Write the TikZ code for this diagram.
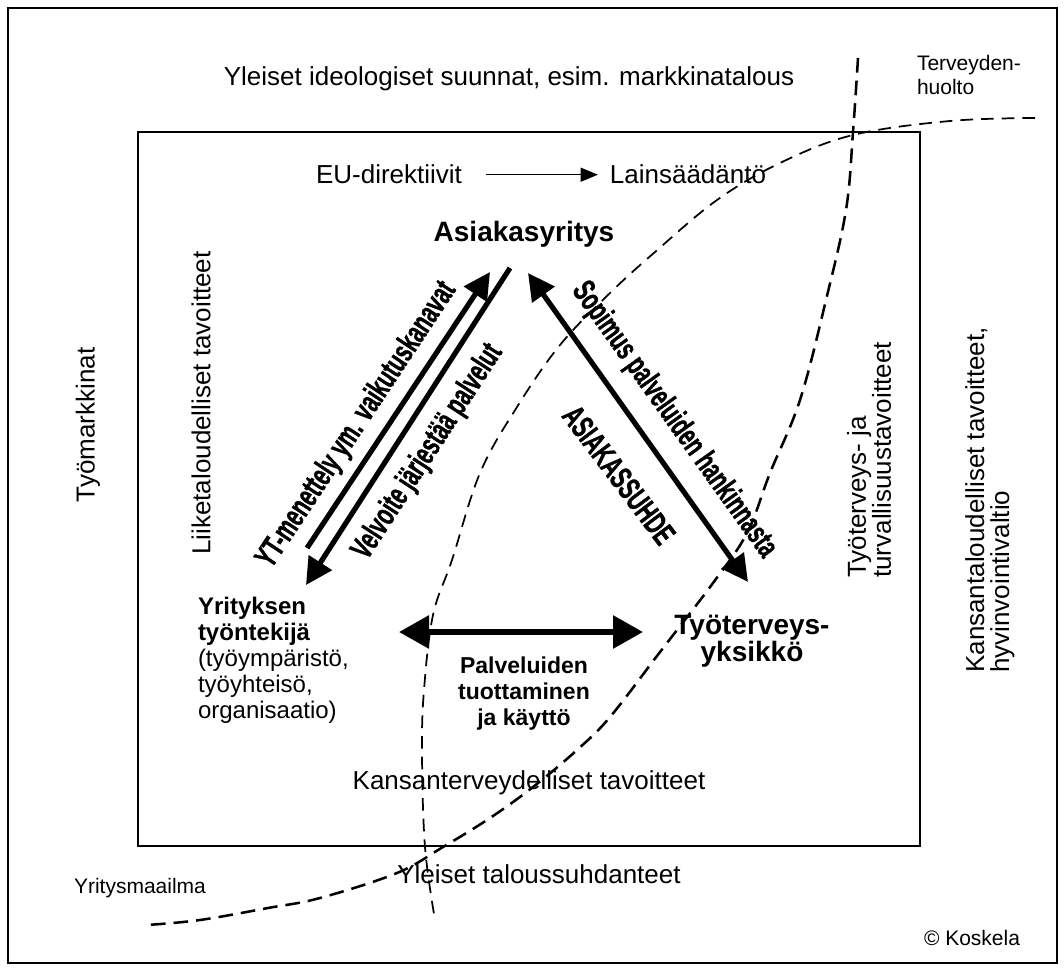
\documentclass[tikz,border=0pt]{standalone}
\usepackage{fontspec}
\setmainfont{Liberation Sans}
\newfontfamily\narrowsans{Liberation Sans}[FakeStretch=0.64, FakeBold=1]
\usetikzlibrary{arrows.meta}

\tikzset{
  every node/.style={inner sep=0pt, outer sep=0pt},
  bodytext/.style={font=\fontsize{19.5}{18.75}\selectfont},
  smalltext/.style={font=\fontsize{15.75}{18}\selectfont},
  heading/.style={font=\bfseries\fontsize{21}{18}\selectfont},
  flowlabel/.style={font=\narrowsans\bfseries\fontsize{24}{24}\selectfont},
  boxline/.style={line width=1.5pt},
  heavyarrow/.style={line width=3.9pt, -{Triangle[length=20pt,width=20pt]}},
  heavytwoway/.style={line width=3.9pt, {Triangle[length=20pt,width=20pt]}-{Triangle[length=20pt,width=20pt]}},
  widetwoway/.style={line width=4.5pt, {Triangle[length=22.5pt,width=24pt]}-{Triangle[length=22.5pt,width=24pt]}},
  thinarrow/.style={line width=1.1pt, -{Triangle[length=13pt,width=10.5pt]}},
  borderA/.style={line width=1.3pt, dash pattern=on 9.5pt off 6pt},
  borderB/.style={line width=1.9pt, dash pattern=on 11pt off 6pt},
}

\begin{document}
\begin{tikzpicture}[x=0.75pt,y=-0.75pt]
\useasboundingbox (0,0) rectangle (1064,970);

% outer frame and inner field
\draw[boxline] (8,8) rectangle (1057,963);
\draw[boxline] (138,132) rectangle (920,846);

% dashed sector boundaries
\draw[borderA] plot[smooth, tension=0.6] coordinates {(1035,118) (950,121) (853,135) (780,163) (717,200) (655,252) (610,293) (560,345) (517,407) (480,473) (452,560) (433,615) (424,690) (422,753) (425,847) (435,920)};
\draw[borderB] plot[smooth, tension=0.6] coordinates {(858,58) (853,132) (846,210) (826,300) (800,400) (770,473) (747,533) (713,583) (660,652) (610,717) (577,750) (533,787) (490,818) (443,847) (397,873) (320,898) (268,908) (200,920) (147,925)};

% texts outside the inner field
\node[bodytext, anchor=base] (ideol) at (509,86) {Yleiset ideologiset suunnat, esim. markkinatalous};
\node[smalltext, anchor=north west, align=left] (health) at (917,55) {Terveyden-\\huolto};
\node[bodytext, rotate=90] (labour) at (88,425) {Työmarkkinat};
\node[bodytext, rotate=90, align=left] (nationgoals) at (990,500) {Kansantaloudelliset tavoitteet,\\hyvinvointivaltio};
\node[bodytext, anchor=base] (economy) at (539,883) {Yleiset taloussuhdanteet};
\node[smalltext, anchor=base] (companies) at (140,893) {Yritysmaailma};
\node[smalltext, anchor=base] (author) at (972,945) {© Koskela};

% texts inside the inner field
\node[bodytext, anchor=base] (eu) at (389,184) {EU-direktiivit};
\node[bodytext, anchor=base] (law) at (688,184) {Lainsäädäntö};
\draw[thinarrow] ([xshift=18pt]eu.east) -- ([xshift=-9pt]eu.east -| law.west);

\node[bodytext, rotate=90] (business) at (201,403) {Liiketaloudelliset tavoitteet};
\node[bodytext, rotate=90, align=left] (ohsgoals) at (869,460) {Työterveys- ja\\turvallisuustavoitteet};
\node[bodytext, anchor=base] (publichealth) at (529,789) {Kansanterveydelliset tavoitteet};

% the three parties
\node[heading, anchor=base] (client) at (524,242) {Asiakasyritys};
\node[anchor=north west, align=left, font=\fontsize{18}{19.5}\selectfont] (employee) at (198,597)
  {\bfseries Yrityksen\\\bfseries työntekijä\\\mdseries (työympäristö,\\työyhteisö,\\organisaatio)};
\node[heading, anchor=north, align=center] (unit) at (752,615) {Työterveys-\\yksikkö};
\node[anchor=north, align=center, font=\bfseries\fontsize{17.25}{19.5}\selectfont] (service) at (524,657)
  {Palveluiden\\tuottaminen\\ja käyttö};

% arrow ends
\coordinate (ytfrom) at (307,548);
\coordinate (ytto) at (490,272);
\coordinate (dutyfrom) at (510,268);
\coordinate (dutyto) at (306,585);
\coordinate (contractA) at (528,273);
\coordinate (contractB) at (748,582);
\coordinate (useA) at (399,632);
\coordinate (useB) at (643,632);

\draw[heavyarrow] (ytfrom) -- (ytto);
\draw[heavyarrow] (dutyfrom) -- (dutyto);
\draw[heavytwoway] (contractA) -- (contractB);
\draw[widetwoway] (useA) -- (useB);

% labels along the arrows
\node[flowlabel, rotate=56.5] (ytlabel) at (357,425) {YT-menettely ym. vaikutuskanavat};
\node[flowlabel, rotate=57] (dutylabel) at (428,452) {Velvoite järjestää palvelut};
\node[flowlabel, rotate=-54.5] (contractlabel) at (674,420) {Sopimus palveluiden hankinnasta};
\node[flowlabel, rotate=-53] (relationlabel) at (619,475) {ASIAKASSUHDE};
\end{tikzpicture}
\end{document}
